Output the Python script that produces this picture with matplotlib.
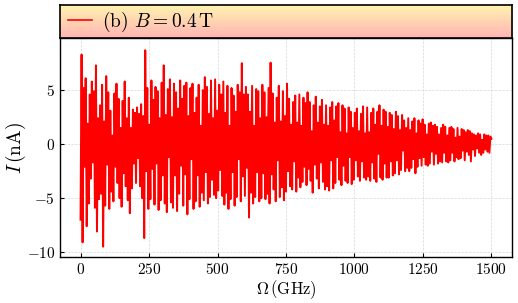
import numpy as np
import matplotlib
matplotlib.use("Agg")
import matplotlib.pyplot as plt
from matplotlib.colors import LinearSegmentedColormap

plt.rcParams['font.family'] = 'serif'
plt.rcParams['font.serif'] = ['cmr10']
plt.rcParams['mathtext.fontset'] = 'cm'
plt.rcParams['axes.formatter.use_mathtext'] = True

# current, one value every 3.75 GHz
current = [
    -7.0, 8.3, -9.1, 5.2, -2.1, 6.1, -7.6, 1.9, -5.5, 4.6, -3.2, 5.8, -1.7, 4.9, -5.9, 7.3, -8.1, 2.4, -5.1, 3.6,
    -4.6, 5.5, -9.5, 2.1, -5.7, 6.3, -1.9, 4.8, -6.0, 3.1, -4.4, 0.8, -5.3, 4.7, -2.1, 5.6, -3.6, 4.2, -5.0, 1.5,
    -5.8, 4.0, -2.7, 5.8, -3.9, 2.4, -5.2, 4.3, -6.4, 1.5, -4.1, 3.2, -1.8, 2.9, -3.6, 3.4, -1.3, 2.8, -3.9, 3.7,
    -5.0, 2.6, -8.7, 8.7, -2.5, 5.2, -6.0, 1.8, -5.1, 5.9, -2.3, 4.1, -5.6, 5.3, -1.8, 4.9, -6.1, 2.4, -5.2, 5.7,
    -2.9, 7.3, -5.5, 2.7, -6.3, 5.1, -1.2, 6.0, -5.4, 2.5, -5.9, 5.6, -2.9, 4.8, -6.2, 3.3, -4.6, 5.9, -2.0, 4.2,
    -5.7, 5.4, -2.8, 5.7, -6.5, 2.6, -5.1, 5.2, -1.4, 5.6, -6.0, 2.9, -5.3, 4.3, -2.9, 5.5, -5.8, 1.7, -4.5, 5.0,
    -5.2, 6.2, -2.6, 5.3, -5.5, 2.8, -4.9, 5.9, -3.3, 2.4, -4.7, 6.0, -5.0, 3.1, -4.3, 5.5, -2.4, 4.6, -4.8, 5.8,
    -5.6, 2.9, -4.5, 5.4, -6.0, 1.7, -5.1, 5.2, -2.6, 4.5, -5.7, 3.0, -4.9, 5.5, -1.4, 4.8, -5.3, 7.5, -3.0, 4.6,
    -4.8, 5.3, -2.2, 4.6, -6.8, 3.0, -4.5, 5.4, -5.5, 1.7, -4.9, 5.1, -2.6, 4.9, -5.3, 2.4, -5.0, 5.5, -2.7, 4.8,
    -5.1, 2.5, -4.6, 5.2, -5.5, 7.55, -2.8, 4.7, -4.2, 2.0, -5.3, 4.3, -1.5, 5.4, -4.9, 2.1, -4.0, 4.9, -5.2, 2.6,
    -4.4, 5.6, -2.5, 4.2, -3.9, 1.8, -4.2, 3.9, -1.6, 4.5, -4.4, 2.0, -3.1, 4.6, -4.0, 1.7, -3.5, 4.3, -2.1, 3.8,
    -3.8, 4.8, -2.3, 3.9, -3.4, 1.2, -4.5, 3.6, -1.9, 4.4, -3.2, 2.0, -4.1, 3.5, -1.7, 4.1, -3.5, 1.8, -4.2, 3.6,
    -3.9, 1.7, -4.3, 3.4, -1.5, 3.9, -4.1, 2.2, -3.6, 3.5, -1.2, 3.8, -3.3, 1.1, -3.8, 3.6, -2.0, 3.3, -3.4, 1.0,
    -3.6, 3.4, -1.2, 3.0, -3.7, 1.5, -3.3, 2.9, -1.5, 3.3, -3.0, 1.2, -3.4, 2.8, -1.6, 3.5, -3.1, 1.0, -3.3, 3.4,
    -3.0, 1.1, -3.4, 2.9, -1.7, 3.3, -3.2, 1.8, -3.5, 3.0, -0.9, 3.6, -3.1, 1.7, -3.3, 3.2, -1.8, 3.0, -3.1, 1.6,
    -3.1, 2.9, -1.6, 2.7, -2.9, 1.4, -2.7, 3.0, -1.5, 2.6, -2.8, 1.3, -2.4, 2.7, -0.6, 2.2, -2.5, 1.5, -2.2, 2.4,
    -2.5, 1.3, -2.2, 2.1, -1.4, 2.4, -2.7, 1.0, -2.1, 2.2, -1.3, 1.9, -2.0, 2.3, -1.2, 1.8, -1.9, 0.9, -2.0, 1.9,
    -1.8, 2.0, -0.7, 1.7, -1.9, 1.8, -0.9, 1.6, -1.8, 0.9, -1.6, 1.5, -1.7, 1.8, -0.8, 1.6, -1.6, 0.8, -1.7, 1.5,
    -1.5, 1.6, -0.8, 1.4, -1.6, 0.6, -1.2, 1.5, -1.4, 0.7, -1.3, 1.4, -0.6, 1.3, -1.5, 1.1, -0.7, 1.3, -1.0, 1.2,
    -1.6, 1.0, -0.5, 0.9, -1.1, 0.8, -0.4, 1.0, -0.8, 0.9, -1.0, 0.4, -0.8, 0.9, -0.5, 0.8, -0.7, 0.8, -0.8, 0.7,
    0.5,
]
omega = np.linspace(0, 1500, len(current))
label = r'(b) $B=0.4\,\mathrm{T}$'

fig = plt.figure(figsize=(5.18, 3.03), dpi=100)
ax = fig.add_axes([0.1158, 0.152, 0.8726, 0.7215])
hdr = fig.add_axes([0.1158, 0.8735, 0.8726, 0.1095])

ax.plot(omega, current, color='#ff0000', lw=1.4)
ax.set_xlim(-75, 1575)
ax.set_ylim(-10.45, 9.8)
ax.set_xticks([0, 250, 500, 750, 1000, 1250, 1500])
ax.set_yticks([-10, -5, 0, 5])
ax.grid(True, ls='--', lw=0.5, color='#d8d8d8')
ax.set_axisbelow(True)
ax.tick_params(direction='in', labelsize=11, length=3)
ax.set_xlabel(r'$\Omega\,(\mathrm{GHz})$', fontsize=12, labelpad=1)
ax.set_ylabel(r'$I\,(\mathrm{nA})$', fontsize=14, labelpad=-1)
for s in ax.spines.values():
    s.set_linewidth(1.0)

# gradient header holding the legend
cmap = LinearSegmentedColormap.from_list('hdr', ['#ffb4b4', '#fff5b0'])
hdr.imshow(np.linspace(0, 1, 100).reshape(-1, 1), cmap=cmap, aspect='auto',
           origin='lower', extent=[0, 1, 0, 1])
hdr.set_xlim(0, 1)
hdr.set_ylim(0, 1)
hdr.set_xticks([])
hdr.set_yticks([])
for s in hdr.spines.values():
    s.set_linewidth(1.2)
hdr.plot([], [], color='#ff0000', lw=1.2, label=label)
hdr.legend(loc='center left', frameon=False, fontsize=14, handlelength=1.25,
           borderaxespad=0.0, bbox_to_anchor=(0.0, 0.5), handletextpad=0.5)

fig.savefig('out.png', dpi=100)
